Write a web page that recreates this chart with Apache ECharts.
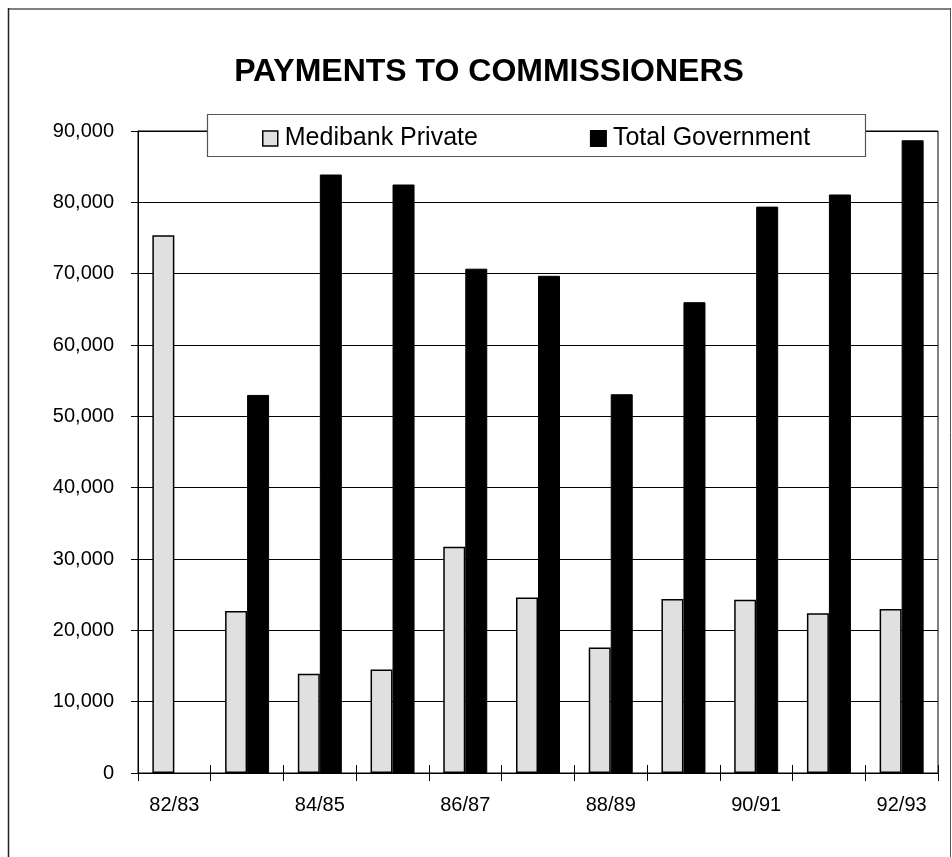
<!DOCTYPE html>
<html>
<head>
<meta charset="utf-8">
<script src="https://cdn.jsdelivr.net/npm/echarts@6/dist/echarts.min.js"></script>
<style>
html,body{margin:0;padding:0;background:#fff;}
#chart{width:952px;height:857px;}
</style>
</head>
<body>
<div id="chart"></div>
<script>
const categories = ['82/83','83/84','84/85','85/86','86/87','87/88','88/89','89/90','90/91','91/92','92/93'];
const medibankPrivate = [75400, 22700, 13900, 14500, 31700, 24600, 17600, 24400, 24300, 22400, 23000];
const totalGovernment = [null, 53000, 83900, 82500, 70700, 69700, 53100, 66000, 79400, 81100, 88700];
const yTicks = [0, 10000, 20000, 30000, 40000, 50000, 60000, 70000, 80000, 90000];

const FONT = '"Liberation Sans", Arial, sans-serif';
const chart = echarts.init(document.getElementById('chart'), null, {renderer: 'canvas'});

const option = {
  backgroundColor: '#fff',
  animation: false,
  title: {
    text: 'PAYMENTS TO COMMISSIONERS',
    left: 484, top: 51, textAlign: 'center',
    textStyle: {fontFamily: FONT, fontSize: 32, fontWeight: 'bold', color: '#000'}
  },
  graphic: [
    {type: 'line', shape: {x1: 8, y1: 9, x2: 951, y2: 9}, style: {stroke: '#808080', lineWidth: 2}, z: 10},
    {type: 'line', shape: {x1: 8.5, y1: 8, x2: 8.5, y2: 857}, style: {stroke: '#222', lineWidth: 1.5}, z: 10},
    {type: 'line', shape: {x1: 950.5, y1: 8, x2: 950.5, y2: 857}, style: {stroke: '#555', lineWidth: 1}, z: 10},
    {type: 'rect', shape: {x: 207.5, y: 114.5, width: 658, height: 42}, style: {fill: '#fff', stroke: '#555', lineWidth: 1.2}, z: 50, zlevel: 0}
  ],
  legend: {
    left: 257, top: 121, z: 60,
    itemWidth: 15, itemHeight: 15, itemGap: 112,
    icon: 'rect',
    textStyle: {fontFamily: FONT, fontSize: 25, color: '#000', padding: [0, 0, 0, 2]},
    data: [
      {name: 'Medibank Private', itemStyle: {color: '#e0e0e0', borderColor: '#000', borderWidth: 1.5}},
      {name: 'Total Government', itemStyle: {color: '#000'}}
    ]
  },
  grid: {left: 138, right: 14, top: 131, bottom: 84, show: true, borderColor: '#000', borderWidth: 1},
  xAxis: [
    {
      type: 'category', data: categories, position: 'bottom', boundaryGap: true,
      axisLine: {lineStyle: {color: '#000', width: 1}},
      axisTick: {show: true, length: 8, interval: 0, lineStyle: {color: '#000'}},
      axisLabel: {interval: 1, margin: 22, fontFamily: FONT, fontSize: 20, color: '#000'}
    },
    {
      type: 'category', data: categories, position: 'bottom', offset: 0, boundaryGap: true,
      axisLine: {show: false},
      axisTick: {show: true, inside: true, length: 8, interval: 0, lineStyle: {color: '#000'}},
      axisLabel: {show: false}, splitLine: {show: false}
    }
  ],
  yAxis: [
    {
      type: 'value', min: yTicks[0], max: yTicks[yTicks.length - 1], interval: 10000, position: 'left',
      axisLine: {show: true, lineStyle: {color: '#000', width: 1}},
      axisTick: {show: true, length: 7, lineStyle: {color: '#000'}},
      axisLabel: {margin: 24, fontFamily: FONT, fontSize: 20, color: '#000',
        formatter: v => v.toLocaleString('en-US')},
      splitLine: {show: true, lineStyle: {color: '#000', width: 1}}
    },
    {
      type: 'value', min: yTicks[0], max: yTicks[yTicks.length - 1], interval: 10000, position: 'left', offset: 0,
      axisLine: {show: false},
      axisTick: {show: true, inside: true, length: 8, lineStyle: {color: '#000'}},
      axisLabel: {show: false}, splitLine: {show: false}
    }
  ],
  series: [
    {
      name: 'Medibank Private', type: 'bar', data: medibankPrivate,
      xAxisIndex: 0, yAxisIndex: 0,
      barWidth: 22, barGap: '0%',
      itemStyle: {color: '#e0e0e0', borderColor: '#000', borderWidth: 1.5}
    },
    {
      name: 'Total Government', type: 'bar', data: totalGovernment,
      xAxisIndex: 0, yAxisIndex: 0,
      barWidth: 22, barGap: '0%',
      itemStyle: {color: '#000', borderColor: '#000', borderWidth: 1}
    }
  ]
};
chart.setOption(option);
</script>
</body>
</html>
